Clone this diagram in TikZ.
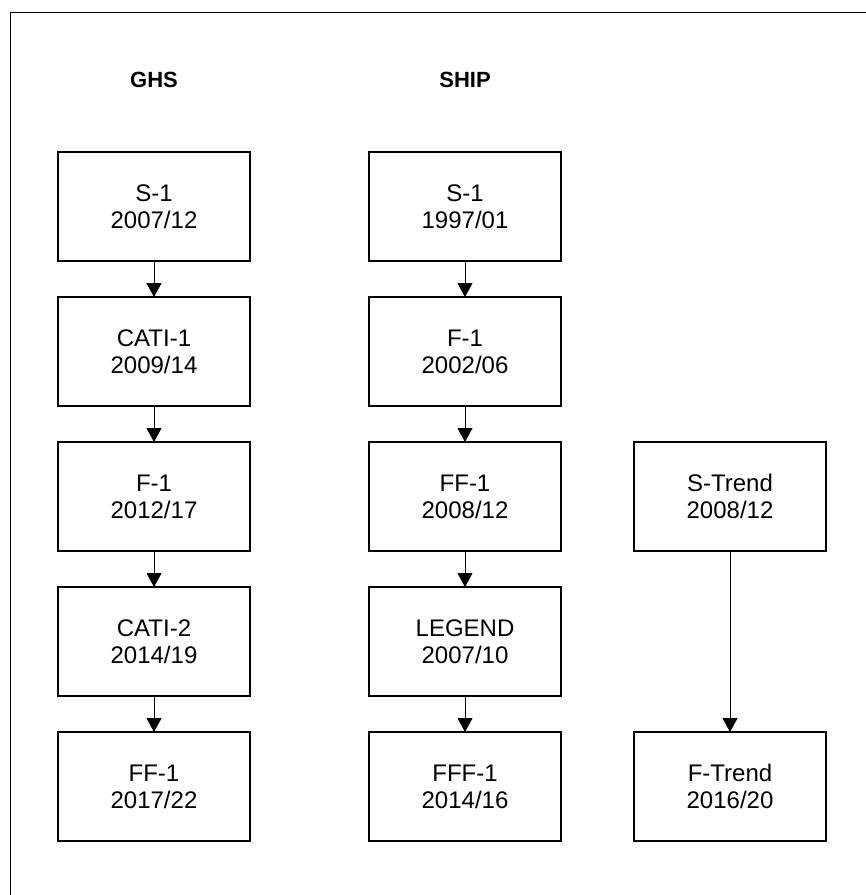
\documentclass[tikz,border=0pt]{standalone}
\usepackage{fontspec}
\setmainfont{Liberation Sans}
\usetikzlibrary{positioning,arrows.meta}

\begin{document}
\begin{tikzpicture}[x=1pt,y=1pt,>={Triangle[width=15pt,length=14pt]},node distance=36pt]
  \tikzstyle{wavebox}=[draw,line width=1.3pt,outer sep=0pt,inner sep=0pt,
    minimum width=192pt,minimum height=109pt,align=center,
    font=\fontsize{24}{27}\selectfont]
  \tikzstyle{cohort}=[font=\bfseries\fontsize{22}{26}\selectfont]
  \useasboundingbox (0,0) rectangle (866,-895);
  \draw[line width=1pt] (10.5,-12.5) rectangle (900,-930);
  % column headings
  \node[cohort] (ghs) at (154,-80) {GHS};
  \node[cohort] (ship) at (465,-80) {SHIP};
  % GHS waves
  \node[wavebox] (ghsS) at (154,-206.5) {S-1\\2007/12};
  \node[wavebox,below=of ghsS] (ghsCATIa) {CATI-1\\2009/14};
  \node[wavebox,below=of ghsCATIa] (ghsF) {F-1\\2012/17};
  \node[wavebox,below=of ghsF] (ghsCATIb) {CATI-2\\2014/19};
  \node[wavebox,below=of ghsCATIb] (ghsFF) {FF-1\\2017/22};
  % SHIP waves
  \node[wavebox] (shipS) at (465,-206.5) {S-1\\1997/01};
  \node[wavebox,below=of shipS] (shipF) {F-1\\2002/06};
  \node[wavebox,below=of shipF] (shipFF) {FF-1\\2008/12};
  \node[wavebox,below=of shipFF] (shipLegend) {LEGEND\\2007/10};
  \node[wavebox,below=of shipLegend] (shipFFF) {FFF-1\\2014/16};
  % SHIP-Trend
  \node[wavebox] (trendS) at (730,-496.5) {S-Trend\\2008/12};
  \node[wavebox] (trendF) at (730,-786.5) {F-Trend\\2016/20};
  \draw[->,line width=1pt] (ghsS)--(ghsCATIa);
  \draw[->,line width=1pt] (ghsCATIa)--(ghsF);
  \draw[->,line width=1pt] (ghsF)--(ghsCATIb);
  \draw[->,line width=1pt] (ghsCATIb)--(ghsFF);
  \draw[->,line width=1pt] (shipS)--(shipF);
  \draw[->,line width=1pt] (shipF)--(shipFF);
  \draw[->,line width=1pt] (shipFF)--(shipLegend);
  \draw[->,line width=1pt] (shipLegend)--(shipFFF);
  \draw[->,line width=1pt] (trendS)--(trendF);
\end{tikzpicture}
\end{document}
